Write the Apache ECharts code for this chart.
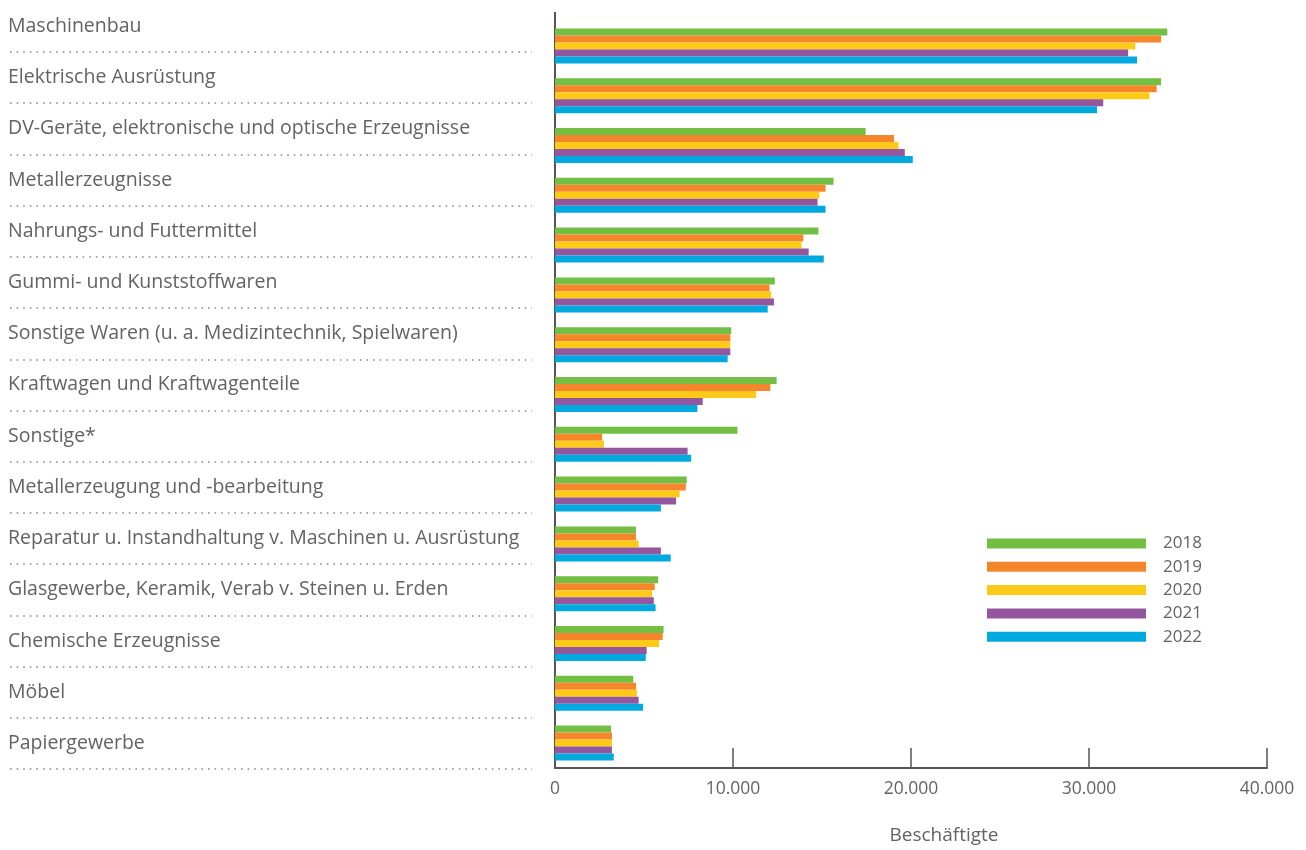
<!DOCTYPE html>
<html><head><meta charset="utf-8">
<script src="https://cdn.jsdelivr.net/npm/echarts@6/dist/echarts.min.js"></script>
<style>html,body{margin:0;padding:0;background:#fff}#c{width:1306px;height:850px}</style>
</head><body><div id="c"></div>
<script>
const categories = ['Maschinenbau','Elektrische Ausrüstung','DV-Geräte, elektronische und optische Erzeugnisse','Metallerzeugnisse','Nahrungs- und Futtermittel','Gummi- und Kunststoffwaren','Sonstige Waren (u. a. Medizintechnik, Spielwaren)','Kraftwagen und Kraftwagenteile','Sonstige*','Metallerzeugung und -bearbeitung','Reparatur u. Instandhaltung v. Maschinen u. Ausrüstung','Glasgewerbe, Keramik, Verab v. Steinen u. Erden','Chemische Erzeugnisse','Möbel','Papiergewerbe'];
const years = ['2018','2019','2020','2021','2022'];
const v2018 = [34400, 34050, 17450, 15650, 14800, 12350, 9900, 12450, 10250, 7400, 4550, 5800, 6100, 4400, 3150];
const v2019 = [34050, 33800, 19050, 15200, 13950, 12050, 9850, 12100, 2650, 7350, 4550, 5600, 6050, 4550, 3200];
const v2020 = [32600, 33400, 19300, 14850, 13850, 12150, 9850, 11300, 2750, 7000, 4700, 5450, 5850, 4600, 3200];
const v2021 = [32200, 30800, 19650, 14750, 14250, 12300, 9850, 8300, 7450, 6800, 5950, 5550, 5150, 4700, 3200];
const v2022 = [32700, 30450, 20100, 15200, 15100, 11950, 9700, 8000, 7650, 5950, 6500, 5650, 5100, 4950, 3300];
const xTicks = [0, 10000, 20000, 30000, 40000];
const axisName = 'Beschäftigte';

const seriesValues = [v2018, v2019, v2020, v2021, v2022];
const colors = ['#72bf44', '#f5862b', '#fdca18', '#94569f', '#00aadf'];
const FONT = "'Open Sans', 'Noto Sans', sans-serif";
const TXT = '#636363';

const chart = echarts.init(document.getElementById('c'), null, {renderer: 'canvas'});
const fmt = v => String(v).replace(/\B(?=(\d{3})+(?!\d))/g, '.');

const option = {
  animation: false,
  textStyle: {fontFamily: FONT},
  grid: [
    {left: 555, right: 39, top: 21, bottom: 78},
    {left: 10, right: 774, top: 0.8, bottom: 81}
  ],
  xAxis: [
    {
      gridIndex: 0, type: 'value', min: xTicks[0], max: xTicks[xTicks.length - 1], interval: 10000,
      axisLine: {show: true, lineStyle: {color: '#555', width: 2}},
      axisTick: {show: true, inside: true, length: 20, lineStyle: {color: '#555', width: 1.5}},
      splitLine: {show: false},
      axisLabel: {color: TXT, fontSize: 17.5, margin: 12, fontFamily: FONT, formatter: fmt},
      name: axisName, nameLocation: 'middle', nameGap: 58,
      nameTextStyle: {color: TXT, fontSize: 19, fontFamily: FONT, padding: [0, 0, 0, 66]}
    },
    {gridIndex: 1, type: 'value', show: false}
  ],
  yAxis: [
    {
      gridIndex: 0, type: 'category', data: categories, inverse: true,
      axisLine: {show: true, lineStyle: {color: '#555', width: 2}},
      axisTick: {show: false}, axisLabel: {show: false}, splitLine: {show: false}
    },
    {
      gridIndex: 1, type: 'category', data: categories, inverse: true,
      axisLine: {show: false}, axisTick: {show: false},
      axisLabel: {show: true, align: 'left', margin: 2, color: TXT, fontSize: 19.5, fontFamily: FONT, padding: [0, 0, 6, 0]},
      splitLine: {show: true, interval: (i) => i !== 0, lineStyle: {color: '#8a8a8a', width: 1.6, type: [1.6, 5]}}
    }
  ],
  legend: {
    orient: 'vertical', left: 987, top: 535, padding: 0,
    itemWidth: 159, itemHeight: 10, itemGap: 6.3,
    icon: 'rect',
    textStyle: {color: TXT, fontSize: 17, fontFamily: FONT, padding: [0, 0, 0, 12]},
    data: years
  },
  series: years.map((y, i) => ({
    name: y, type: 'bar', xAxisIndex: 0, yAxisIndex: 0,
    data: seriesValues[i], barWidth: 7, barGap: '0%',
    itemStyle: {color: colors[i]}
  })),
  graphic: [{
    type: 'line', shape: {x1: 555, y1: 12, x2: 555, y2: 22},
    style: {stroke: '#555', lineWidth: 2}, silent: true
  }]
};
chart.setOption(option);
</script>
</body></html>
